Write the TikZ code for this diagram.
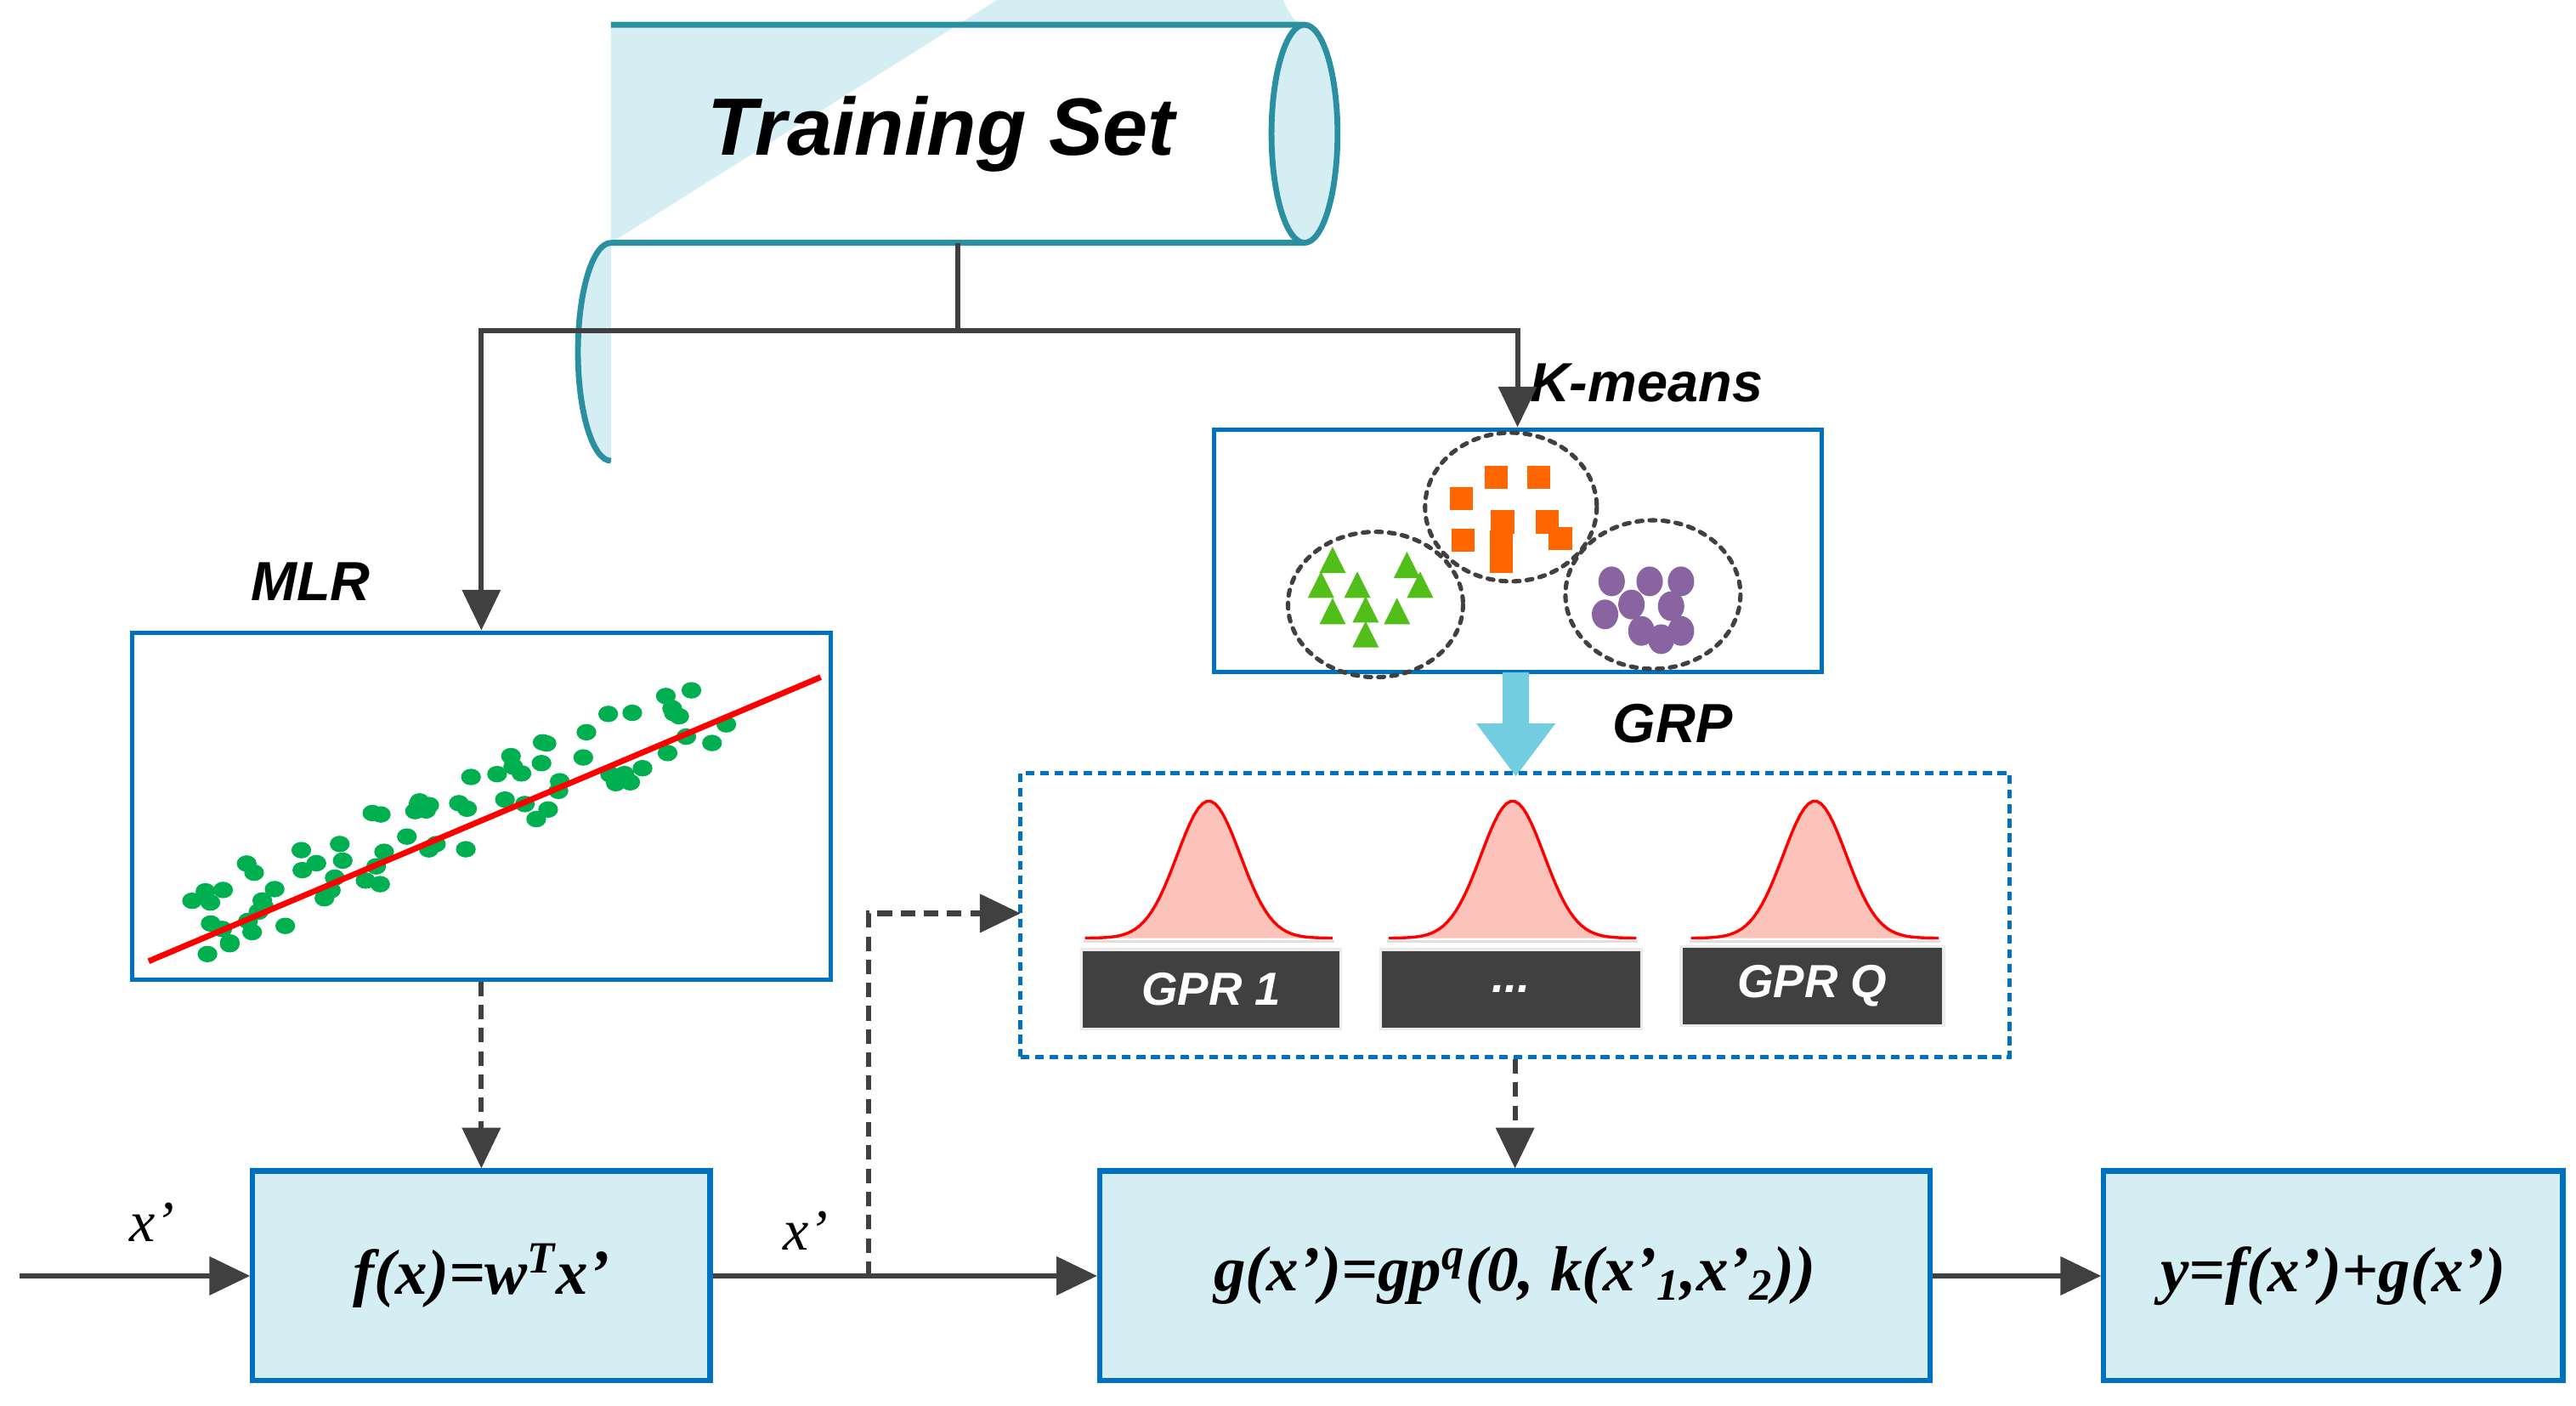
\documentclass[tikz,border=0pt]{standalone}
\usepackage{fontspec}
\setmainfont{Liberation Serif}
\setsansfont{Liberation Sans}
\usetikzlibrary{arrows.meta,shapes.geometric}
\definecolor{boxblue}{HTML}{0070C0}
\definecolor{boxfill}{HTML}{D4EEF3}
\definecolor{cyl}{HTML}{2A8FA0}
\definecolor{dark}{HTML}{404040}
\definecolor{orng}{HTML}{FF6600}
\definecolor{grn}{HTML}{52BE1A}
\definecolor{purp}{HTML}{8A64A0}
\definecolor{dgreen}{HTML}{00B050}
\definecolor{pinkf}{HTML}{FCC3BA}
\definecolor{widearrow}{HTML}{72CDE0}
\tikzset{
 conn/.style={draw=dark,line width=1.8pt},
 tip/.style={-{Triangle[length=14pt,width=13pt]}},
 dconn/.style={draw=dark,line width=1.8pt,dash pattern=on 5pt off 3pt},
 formbox/.style={draw=boxblue,fill=boxfill,line width=1.8pt,font=\fontsize{22}{26}\selectfont\bfseries\itshape},
 whitebox/.style={draw=boxblue,line width=1.5pt},
 lbl/.style={font=\sffamily\bfseries\itshape\fontsize{19}{22}\selectfont},
 xlbl/.style={font=\itshape\fontsize{20}{24}\selectfont},
 gprbox/.style={fill=dark,draw=black!8,line width=1pt,text=white,font=\sffamily\bfseries\itshape\fontsize{16}{19}\selectfont},
 clus/.style={draw=dark,line width=1.5pt,dash pattern=on 2pt off 2.5pt,line cap=round},
}
\begin{document}
\begin{tikzpicture}[x=0.02cm,y=-0.02cm]
\useasboundingbox (0,0) rectangle (1560,851);
% cylinder
\fill[boxfill] (370,15) -- (790,15) arc[start angle=90,end angle=270,x radius=20,y radius=66] -- (370,147) arc[start angle=270,end angle=90,x radius=20,y radius=66] -- cycle;
\draw[cyl,line width=2pt] (370,15) -- (790,15) (370,147) -- (790,147) (370,147) arc[start angle=270,end angle=90,x radius=20,y radius=66];
\draw[cyl,line width=2pt,fill=boxfill] (790,81) ellipse[x radius=20,y radius=66];
\node[font=\sffamily\bfseries\itshape\fontsize{28}{32}\selectfont] (ts) at (570,81) {Training Set};
\coordinate (tsb) at (580,147);
% MLR box
\node[whitebox,minimum width=423*0.02cm,minimum height=210*0.02cm] (mlr) at (291.5,488) {};
\node[lbl] (mlrl) at (188,352) {MLR};
\pgfmathsetseed{7}
\foreach \i in {1,...,75}{
 \pgfmathsetmacro{\xx}{115+330*rnd}
 \pgfmathsetmacro{\yy}{582-(\xx-90)*0.4226-10+50*(rnd-0.5)}
 \fill[dgreen] (\xx,\yy) ellipse[x radius=6,y radius=5];
}
\draw[red,line width=2pt] (90,582) -- (497,410);
% Kmeans
\node[whitebox,minimum width=368*0.02cm,minimum height=147*0.02cm] (km) at (919,333.5) {};
\node[lbl] (kml) at (997,232) {K-means};
\draw[clus] (915,307) ellipse[x radius=52,y radius=45];
\draw[clus] (833,366) ellipse[x radius=53,y radius=44];
\draw[clus] (1001,360) ellipse[x radius=53,y radius=45];
\foreach \a/\b in {906/289,932/289,885/302,910/316,937/316,886/327,909/328,945/326,909/340}{
 \fill[orng] (\a-7,\b-7) rectangle (\a+7,\b+7);}
\foreach \a/\b in {807/340,852/343,800/355,822/355,860/355,807/371,827/370,846/371,827/385}{
 \fill[grn] (\a-8,\b+7) -- (\a+8,\b+7) -- (\a,\b-9) -- cycle;}
\foreach \a/\b in {976/352,999/352,1018/352,988/366,1012/367,972/372,994/382,1018/382,1006/387}{
 \fill[purp] (\a,\b) ellipse[x radius=8,y radius=9];}
% wide arrow
\fill[widearrow] (910,407) -- (926,407) -- (926,438) -- (942,438) -- (918,470) -- (894,438) -- (910,438) -- cycle;
\node[lbl] (grpl) at (1013,438) {GRP};
% GRP box
\node[draw=boxblue,line width=1.5pt,dash pattern=on 3pt off 2pt,minimum width=599*0.02cm,minimum height=172*0.02cm] (grp) at (917.5,554) {};
\foreach \c in {732,916,1099}{
 \fill[pinkf] plot[domain=-75:75,samples=60] ({\c+\x},{568-83*exp(-(\x/27)^2)}) -- cycle;
 \draw[red,line width=1pt] plot[domain=-75:75,samples=60] ({\c+\x},{568-83*exp(-(\x/27)^2)});
 \draw[black!12,line width=0.6pt] (\c-76,570) -- (\c+76,570);
}
\node[gprbox,minimum width=157*0.02cm,minimum height=48*0.02cm] (g1) at (733.5,599) {GPR 1};
\node[gprbox,minimum width=158*0.02cm,minimum height=48*0.02cm] (g2) at (915,599) {...};
\node[gprbox,minimum width=159*0.02cm,minimum height=48*0.02cm] (g3) at (1097.5,597) {GPR Q};
% formula boxes
\node[formbox,minimum width=277*0.02cm,minimum height=127*0.02cm] (f) at (291.5,772.5) {f(x)=w\textsuperscript{T}x'};
\node[formbox,minimum width=503*0.02cm,minimum height=127*0.02cm] (g) at (917.5,772.5) {g(x')=gp\textsuperscript{q}(0, k(x'\textsubscript{1},x'\textsubscript{2}))};
\node[formbox,minimum width=278*0.02cm,minimum height=127*0.02cm] (y) at (1413,772.5) {y=f(x')+g(x')};
% connectors
\coordinate (jn) at (580,200);
\draw[conn] (tsb) -- (jn);
\draw[conn,tip] (jn) -| (mlr.north);
\draw[conn,tip] (jn) -| (km.north);
\coordinate (in) at (12,772.5);
\draw[conn,tip] (in) -- (f.west);
\node[xlbl] (x1) at (92,740) {x'};
\draw[conn,tip] (f.east) -- (g.west);
\node[xlbl] (x2) at (488,745) {x'};
\coordinate (br) at (526,772.5);
\coordinate (gin) at (618,553);
\draw[dconn,tip] (br) |- (gin);
\draw[conn,tip] (g.east) -- (y.west);
\draw[dconn,tip] (mlr.south) -- (f.north);
\draw[dconn,tip] (grp.south) -- (g.north);
\end{tikzpicture}
\end{document}
